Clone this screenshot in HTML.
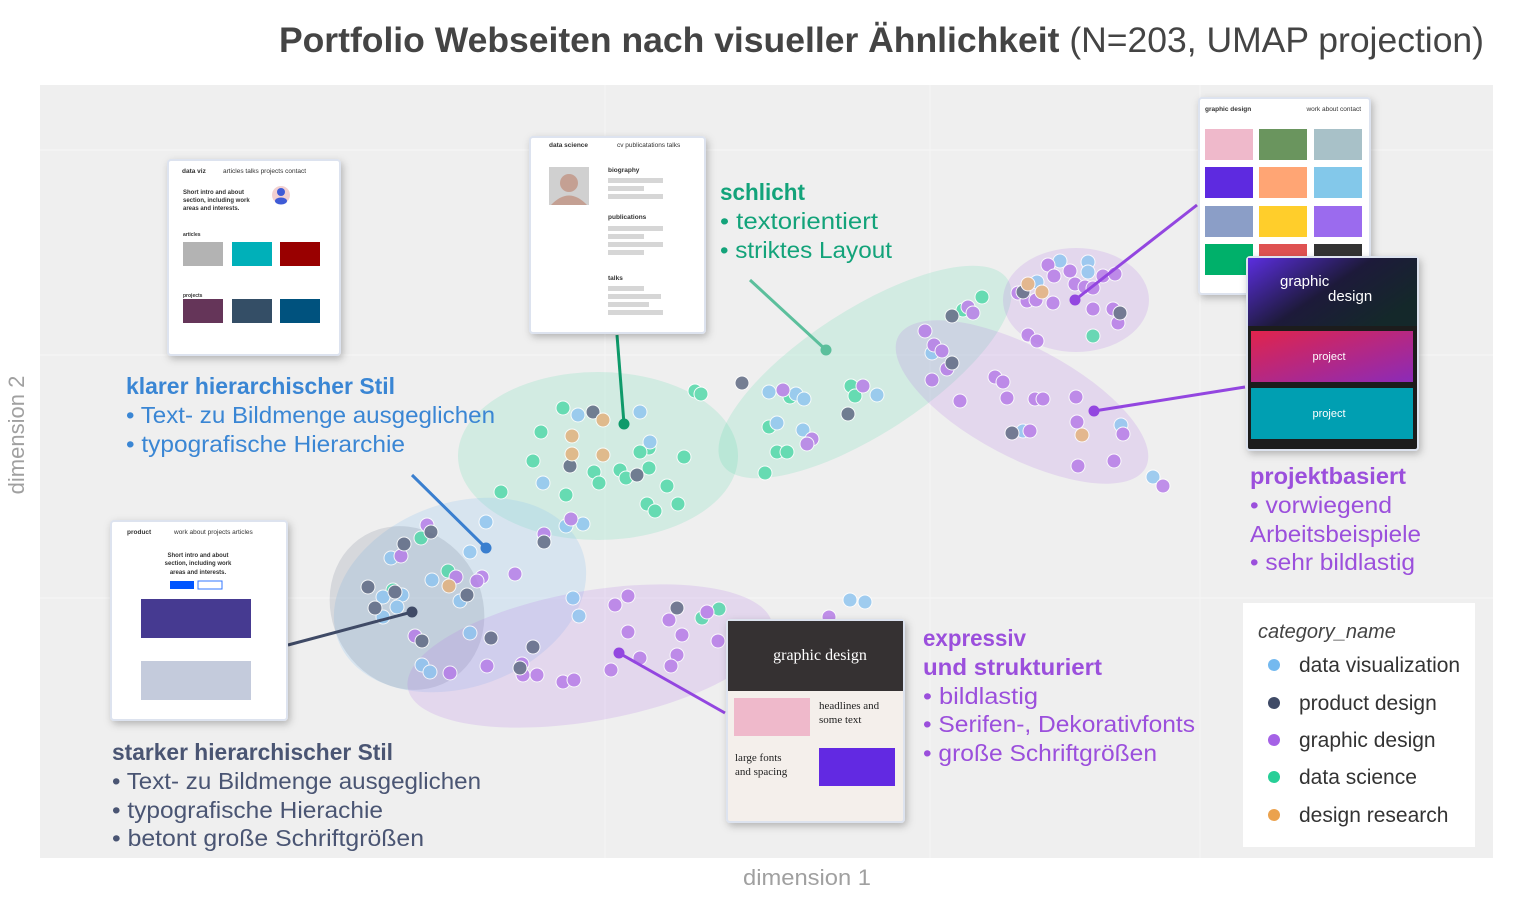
<!DOCTYPE html>
<html><head><meta charset="utf-8"><style>
html,body{margin:0;padding:0;background:#fff;}
svg{display:block;font-family:"Liberation Sans",sans-serif;}
.card{filter:url(#sh);}
</style></head><body>
<svg width="1530" height="900" viewBox="0 0 1530 900" xmlns="http://www.w3.org/2000/svg">
<defs>
<filter id="sh" x="-20%" y="-20%" width="140%" height="140%"><feDropShadow dx="2" dy="3" stdDeviation="4" flood-color="#000" flood-opacity="0.25"/></filter>
<linearGradient id="g1" x1="0" y1="0" x2="1" y2="0.6"><stop offset="0" stop-color="#5b2ee0"/><stop offset="0.55" stop-color="#1d1a3a"/><stop offset="1" stop-color="#14282a"/></linearGradient>
<linearGradient id="g2" x1="0" y1="0" x2="1" y2="1"><stop offset="0" stop-color="#e0244c"/><stop offset="1" stop-color="#8b2bb8"/></linearGradient>
</defs>
<text x="1484" y="52" text-anchor="end" font-size="35.5" fill="#444"><tspan font-weight="bold">Portfolio Webseiten nach visueller Ähnlichkeit</tspan> (N=203, UMAP projection)</text>
<rect x="40" y="85" width="1453" height="773" fill="#efefef"/>
<g stroke="#f5f5f5" stroke-width="1.2">
<line x1="40" y1="355" x2="1493" y2="355"/><line x1="40" y1="598" x2="1493" y2="598"/><line x1="40" y1="150" x2="1493" y2="150"/>
<line x1="605" y1="85" x2="605" y2="858"/><line x1="930" y1="85" x2="930" y2="858"/><line x1="1200" y1="85" x2="1200" y2="858"/>
</g>
<text x="807" y="885" text-anchor="middle" font-size="22" fill="#a0a0a0" textLength="128" lengthAdjust="spacingAndGlyphs">dimension 1</text>
<text transform="translate(24,435) rotate(-90)" text-anchor="middle" font-size="22" fill="#a0a0a0">dimension 2</text>
<!-- ellipses -->
<ellipse cx="598" cy="456" rx="140" ry="84" fill="#4fd8a8" opacity="0.18"/>
<ellipse cx="865" cy="372" rx="170" ry="62" transform="rotate(-33 865 372)" fill="#4fd8a8" opacity="0.18"/>
<ellipse cx="1076" cy="300" rx="73" ry="52" fill="#b57ae8" opacity="0.2"/>
<ellipse cx="1022" cy="402" rx="140" ry="55" transform="rotate(28 1022 402)" fill="#b57ae8" opacity="0.2"/>
<ellipse cx="460" cy="595" rx="130" ry="92" transform="rotate(-20 460 595)" fill="#8ec5f0" opacity="0.25"/>
<ellipse cx="407" cy="608" rx="75" ry="84" transform="rotate(-30 407 608)" fill="#4a5673" opacity="0.15"/>
<ellipse cx="590" cy="656" rx="185" ry="65" transform="rotate(-10 590 656)" fill="#b57ae8" opacity="0.2"/>
<!-- dots -->
<g stroke="#fff" stroke-width="1" opacity="0.82">
<g fill="#4fd8a8">
<circle cx="563" cy="408" r="7"/><circle cx="541" cy="432" r="7"/><circle cx="533" cy="461" r="7"/><circle cx="594" cy="472" r="7"/><circle cx="599" cy="483" r="7"/><circle cx="620" cy="470" r="7"/><circle cx="626" cy="478" r="7"/><circle cx="649" cy="448" r="7"/><circle cx="640" cy="452" r="7"/><circle cx="649" cy="468" r="7"/><circle cx="667" cy="486" r="7"/><circle cx="684" cy="457" r="7"/><circle cx="501" cy="492" r="7"/><circle cx="566" cy="495" r="7"/><circle cx="647" cy="504" r="7"/><circle cx="655" cy="511" r="7"/><circle cx="678" cy="504" r="7"/><circle cx="695" cy="391" r="7"/><circle cx="701" cy="394" r="7"/><circle cx="982" cy="297" r="7"/><circle cx="963" cy="310" r="7"/><circle cx="790" cy="397" r="7"/><circle cx="851" cy="386" r="7"/><circle cx="855" cy="396" r="7"/><circle cx="769" cy="427" r="7"/><circle cx="777" cy="452" r="7"/><circle cx="787" cy="452" r="7"/><circle cx="765" cy="473" r="7"/><circle cx="1093" cy="336" r="7"/><circle cx="421" cy="538" r="7"/><circle cx="448" cy="571" r="7"/><circle cx="719" cy="609" r="7"/><circle cx="702" cy="618" r="7"/><circle cx="393" cy="590" r="7"/>
</g>
<g fill="#8ec5f0">
<circle cx="578" cy="415" r="7"/><circle cx="640" cy="412" r="7"/><circle cx="543" cy="483" r="7"/><circle cx="650" cy="442" r="7"/><circle cx="566" cy="526" r="7"/><circle cx="583" cy="524" r="7"/><circle cx="486" cy="522" r="7"/><circle cx="470" cy="552" r="7"/><circle cx="391" cy="558" r="7"/><circle cx="432" cy="580" r="7"/><circle cx="460" cy="601" r="7"/><circle cx="383" cy="597" r="7"/><circle cx="402" cy="595" r="7"/><circle cx="397" cy="607" r="7"/><circle cx="383" cy="617" r="7"/><circle cx="470" cy="633" r="7"/><circle cx="422" cy="665" r="7"/><circle cx="430" cy="672" r="7"/><circle cx="573" cy="598" r="7"/><circle cx="579" cy="616" r="7"/><circle cx="850" cy="600" r="7"/><circle cx="865" cy="602" r="7"/><circle cx="1060" cy="261" r="7"/><circle cx="1088" cy="262" r="7"/><circle cx="1088" cy="272" r="7"/><circle cx="1037" cy="282" r="7"/><circle cx="932" cy="353" r="7"/><circle cx="769" cy="392" r="7"/><circle cx="796" cy="394" r="7"/><circle cx="804" cy="399" r="7"/><circle cx="877" cy="395" r="7"/><circle cx="777" cy="423" r="7"/><circle cx="803" cy="430" r="7"/><circle cx="1023" cy="431" r="7"/><circle cx="1121" cy="425" r="7"/><circle cx="1153" cy="477" r="7"/>
</g>
<g fill="#b57ae8">
<circle cx="571" cy="519" r="7"/><circle cx="544" cy="534" r="7"/><circle cx="427" cy="525" r="7"/><circle cx="401" cy="556" r="7"/><circle cx="515" cy="574" r="7"/><circle cx="482" cy="577" r="7"/><circle cx="477" cy="581" r="7"/><circle cx="456" cy="577" r="7"/><circle cx="415" cy="636" r="7"/><circle cx="450" cy="673" r="7"/><circle cx="487" cy="666" r="7"/><circle cx="522" cy="664" r="7"/><circle cx="523" cy="675" r="7"/><circle cx="537" cy="675" r="7"/><circle cx="615" cy="605" r="7"/><circle cx="628" cy="596" r="7"/><circle cx="628" cy="632" r="7"/><circle cx="669" cy="620" r="7"/><circle cx="682" cy="635" r="7"/><circle cx="707" cy="612" r="7"/><circle cx="718" cy="641" r="7"/><circle cx="640" cy="658" r="7"/><circle cx="677" cy="655" r="7"/><circle cx="671" cy="666" r="7"/><circle cx="611" cy="670" r="7"/><circle cx="563" cy="682" r="7"/><circle cx="574" cy="680" r="7"/><circle cx="829" cy="617" r="7"/><circle cx="968" cy="307" r="7"/><circle cx="973" cy="313" r="7"/><circle cx="925" cy="331" r="7"/><circle cx="934" cy="345" r="7"/><circle cx="942" cy="351" r="7"/><circle cx="947" cy="369" r="7"/><circle cx="932" cy="380" r="7"/><circle cx="783" cy="390" r="7"/><circle cx="863" cy="386" r="7"/><circle cx="812" cy="439" r="7"/><circle cx="807" cy="444" r="7"/><circle cx="1048" cy="265" r="7"/><circle cx="1054" cy="276" r="7"/><circle cx="1070" cy="271" r="7"/><circle cx="1018" cy="293" r="7"/><circle cx="1027" cy="301" r="7"/><circle cx="1036" cy="300" r="7"/><circle cx="1053" cy="303" r="7"/><circle cx="1075" cy="284" r="7"/><circle cx="1085" cy="287" r="7"/><circle cx="1093" cy="288" r="7"/><circle cx="1103" cy="276" r="7"/><circle cx="1115" cy="274" r="7"/><circle cx="1093" cy="309" r="7"/><circle cx="1113" cy="309" r="7"/><circle cx="1118" cy="323" r="7"/><circle cx="1028" cy="335" r="7"/><circle cx="1037" cy="341" r="7"/><circle cx="995" cy="377" r="7"/><circle cx="1003" cy="382" r="7"/><circle cx="960" cy="401" r="7"/><circle cx="1007" cy="398" r="7"/><circle cx="1035" cy="399" r="7"/><circle cx="1043" cy="399" r="7"/><circle cx="1076" cy="397" r="7"/><circle cx="1077" cy="422" r="7"/><circle cx="1030" cy="431" r="7"/><circle cx="1123" cy="434" r="7"/><circle cx="1078" cy="466" r="7"/><circle cx="1114" cy="461" r="7"/><circle cx="1163" cy="486" r="7"/>
</g>
<g fill="#5b6680">
<circle cx="593" cy="412" r="7"/><circle cx="570" cy="466" r="7"/><circle cx="637" cy="475" r="7"/><circle cx="742" cy="383" r="7"/><circle cx="544" cy="542" r="7"/><circle cx="431" cy="532" r="7"/><circle cx="404" cy="544" r="7"/><circle cx="467" cy="595" r="7"/><circle cx="368" cy="587" r="7"/><circle cx="395" cy="592" r="7"/><circle cx="375" cy="608" r="7"/><circle cx="422" cy="641" r="7"/><circle cx="491" cy="638" r="7"/><circle cx="533" cy="647" r="7"/><circle cx="520" cy="668" r="7"/><circle cx="677" cy="608" r="7"/><circle cx="952" cy="316" r="7"/><circle cx="952" cy="363" r="7"/><circle cx="848" cy="414" r="7"/><circle cx="1023" cy="292" r="7"/><circle cx="1120" cy="313" r="7"/><circle cx="1012" cy="433" r="7"/>
</g>
<g fill="#e3b07a">
<circle cx="603" cy="420" r="7"/><circle cx="572" cy="436" r="7"/><circle cx="572" cy="454" r="7"/><circle cx="603" cy="455" r="7"/><circle cx="449" cy="586" r="7"/><circle cx="1028" cy="284" r="7"/><circle cx="1042" cy="292" r="7"/><circle cx="1082" cy="435" r="7"/>
</g>
</g>
<!-- callout lines -->
<g stroke-width="3">
<line x1="486" y1="548" x2="412" y2="475" stroke="#3a7fcf"/><circle cx="486" cy="548" r="5.5" fill="#3a7fcf"/>
<line x1="412" y1="612" x2="288" y2="645" stroke="#3f4a66"/><circle cx="412" cy="612" r="5.5" fill="#3f4a66"/>
<line x1="624" y1="424" x2="617" y2="335" stroke="#0e9a6a"/><circle cx="624" cy="424" r="5.5" fill="#0e9a6a"/>
<line x1="826" y1="350" x2="750" y2="280" stroke="#5cbf9c"/><circle cx="826" cy="350" r="5.5" fill="#5cbf9c"/>
<line x1="1075" y1="300" x2="1197" y2="205" stroke="#9346e0"/><circle cx="1075" cy="300" r="5.5" fill="#9346e0"/>
<line x1="1094" y1="411" x2="1245" y2="387" stroke="#9346e0"/><circle cx="1094" cy="411" r="5.5" fill="#9346e0"/>
<line x1="619" y1="653" x2="725" y2="713" stroke="#9346e0"/><circle cx="619" cy="653" r="5.5" fill="#9346e0"/>
</g>
<!-- card 1 data viz -->
<g class="card"><rect x="168" y="160" width="172" height="195" rx="3" fill="#fff" stroke="#dde3ef" stroke-width="2"/></g>
<g font-size="6.5" fill="#333">
<text x="182" y="173" font-weight="bold">data viz</text><text x="223" y="173">articles talks projects contact</text>
<text x="183" y="194" font-weight="bold" font-size="6">Short intro and about</text><text x="183" y="202" font-weight="bold" font-size="6">section, including work</text><text x="183" y="210" font-weight="bold" font-size="6">areas and interests.</text>
<circle cx="281" cy="195" r="9" fill="#f2d0d0"/><circle cx="281" cy="192" r="4" fill="#3f5bd6"/><ellipse cx="281" cy="201" rx="6" ry="3.5" fill="#3f5bd6"/>
<text x="183" y="236" font-size="5" font-weight="bold">articles</text><text x="183" y="297" font-size="5" font-weight="bold">projects</text>
</g>
<rect x="183" y="242" width="40" height="24" fill="#b3b3b3"/><rect x="232" y="242" width="40" height="24" fill="#00b0b9"/><rect x="280" y="242" width="40" height="24" fill="#990000"/>
<rect x="183" y="299" width="40" height="24" fill="#653559"/><rect x="232" y="299" width="40" height="24" fill="#344e66"/><rect x="280" y="299" width="40" height="24" fill="#00527e"/>
<!-- card 2 data science -->
<g class="card"><rect x="530" y="137" width="175" height="196" rx="3" fill="#fff" stroke="#dde3ef" stroke-width="2"/></g>
<g font-size="6.5" fill="#333"><text x="549" y="147" font-weight="bold">data science</text><text x="617" y="147">cv publicatations talks</text>
<text x="608" y="172" font-weight="bold">biography</text><text x="608" y="219" font-weight="bold">publications</text><text x="608" y="280" font-weight="bold">talks</text></g>
<rect x="549" y="167" width="40" height="38" fill="#d0d0d0"/><circle cx="569" cy="183" r="9" fill="#c4a093"/><path d="M551 205 Q569 186 587 205Z" fill="#c4a093"/>
<g fill="#d6d6d6"><rect x="608" y="178" width="55" height="5"/><rect x="608" y="186" width="36" height="5"/><rect x="608" y="194" width="55" height="5"/>
<rect x="608" y="226" width="55" height="5"/><rect x="608" y="234" width="36" height="5"/><rect x="608" y="242" width="55" height="5"/><rect x="608" y="250" width="36" height="5"/>
<rect x="608" y="286" width="36" height="5"/><rect x="608" y="294" width="53" height="5"/><rect x="608" y="302" width="41" height="5"/><rect x="608" y="310" width="55" height="5"/></g>
<!-- card 3 graphic design grid -->
<g class="card"><rect x="1199" y="98" width="171" height="196" rx="3" fill="#fff" stroke="#dde3ef" stroke-width="2"/></g>
<text x="1205" y="111" font-size="6.5" font-weight="bold" fill="#333">graphic design</text><text x="1361" y="111" font-size="6.5" fill="#333" text-anchor="end">work about contact</text>
<rect x="1205" y="129" width="48" height="31" fill="#efb9cb"/><rect x="1259" y="129" width="48" height="31" fill="#6a955e"/><rect x="1314" y="129" width="48" height="31" fill="#a8c1c8"/>
<rect x="1205" y="167" width="48" height="31" fill="#5e2ae0"/><rect x="1259" y="167" width="48" height="31" fill="#ffa574"/><rect x="1314" y="167" width="48" height="31" fill="#83c8ea"/>
<rect x="1205" y="206" width="48" height="31" fill="#8b9ec7"/><rect x="1259" y="206" width="48" height="31" fill="#ffce2b"/><rect x="1314" y="206" width="48" height="31" fill="#9b6bee"/>
<rect x="1205" y="244" width="48" height="31" fill="#00b06a"/><rect x="1259" y="244" width="48" height="31" fill="#df5252"/><rect x="1314" y="244" width="48" height="31" fill="#333"/>
<!-- card 4 dark -->
<g class="card"><rect x="1247" y="257" width="171" height="193" rx="3" fill="#1c1c1c" stroke="#dde3ef" stroke-width="2"/></g>
<rect x="1248" y="258" width="169" height="68" fill="url(#g1)"/>
<text x="1280" y="286" font-size="15" fill="#fff">graphic</text><text x="1328" y="301" font-size="15" fill="#fff">design</text>
<rect x="1251" y="331" width="162" height="51" fill="url(#g2)"/><text x="1329" y="360" font-size="11" fill="#fff" text-anchor="middle">project</text>
<rect x="1251" y="388" width="162" height="51" fill="#009fb2"/><text x="1329" y="417" font-size="11" fill="#fff" text-anchor="middle">project</text>
<!-- card 5 product -->
<g class="card"><rect x="111" y="521" width="176" height="199" rx="3" fill="#fff" stroke="#dde3ef" stroke-width="2"/></g>
<g font-size="6.5" fill="#333"><text x="127" y="534" font-weight="bold">product</text><text x="174" y="534">work about projects articles</text>
<g font-size="6" font-weight="bold" text-anchor="middle"><text x="198" y="557">Short intro and about</text><text x="198" y="565">section, including work</text><text x="198" y="574">areas and interests.</text></g></g>
<rect x="170" y="581" width="24" height="8" fill="#0055ff"/><rect x="198" y="581" width="24" height="8" fill="#fff" stroke="#3377ff"/>
<rect x="141" y="599" width="110" height="39" fill="#463a91"/><rect x="141" y="661" width="110" height="39" fill="#c4cbdc"/>
<!-- card 6 serif -->
<g class="card"><rect x="727" y="620" width="177" height="202" rx="3" fill="#f4efeb" stroke="#dde3ef" stroke-width="2"/></g>
<rect x="728" y="621" width="175" height="70" fill="#353132"/>
<g font-family="Liberation Serif,serif"><text x="820" y="660" font-size="16" fill="#fff" text-anchor="middle">graphic design</text>
<text x="819" y="709" font-size="11" fill="#222">headlines and</text><text x="819" y="723" font-size="11" fill="#222">some text</text>
<text x="735" y="761" font-size="11" fill="#222">large fonts</text><text x="735" y="775" font-size="11" fill="#222">and spacing</text></g>
<rect x="734" y="698" width="76" height="38" fill="#efb9cb"/><rect x="819" y="748" width="76" height="38" fill="#6229e2"/>
<!-- annotations -->
<g font-size="23.5">
<g fill="#3a86d4"><text x="126" y="394" font-weight="bold" textLength="269" lengthAdjust="spacingAndGlyphs">klarer hierarchischer Stil</text><text x="126" y="423" textLength="369" lengthAdjust="spacingAndGlyphs">• Text- zu Bildmenge ausgeglichen</text><text x="126" y="452" textLength="279" lengthAdjust="spacingAndGlyphs">• typografische Hierarchie</text></g>
<g fill="#13a37a"><text x="720" y="200" font-weight="bold" textLength="85" lengthAdjust="spacingAndGlyphs">schlicht</text><text x="720" y="229" textLength="158" lengthAdjust="spacingAndGlyphs">• textorientiert</text><text x="720" y="258" textLength="172" lengthAdjust="spacingAndGlyphs">• striktes Layout</text></g>
<g fill="#9b4fdc"><text x="1250" y="484" font-weight="bold" textLength="156" lengthAdjust="spacingAndGlyphs">projektbasiert</text><text x="1250" y="513" textLength="142" lengthAdjust="spacingAndGlyphs">• vorwiegend</text><text x="1250" y="542" textLength="171" lengthAdjust="spacingAndGlyphs">Arbeitsbeispiele</text><text x="1250" y="570" textLength="165" lengthAdjust="spacingAndGlyphs">• sehr bildlastig</text></g>
<g fill="#9b4fdc"><text x="923" y="646" font-weight="bold" textLength="103" lengthAdjust="spacingAndGlyphs">expressiv</text><text x="923" y="675" font-weight="bold" textLength="179" lengthAdjust="spacingAndGlyphs">und strukturiert</text><text x="923" y="704" textLength="115" lengthAdjust="spacingAndGlyphs">• bildlastig</text><text x="923" y="732" textLength="272" lengthAdjust="spacingAndGlyphs">• Serifen-, Dekorativfonts</text><text x="923" y="761" textLength="234" lengthAdjust="spacingAndGlyphs">• große Schriftgrößen</text></g>
<g fill="#4a5573"><text x="112" y="760" font-weight="bold" textLength="281" lengthAdjust="spacingAndGlyphs">starker hierarchischer Stil</text><text x="112" y="789" textLength="369" lengthAdjust="spacingAndGlyphs">• Text- zu Bildmenge ausgeglichen</text><text x="112" y="818" textLength="271" lengthAdjust="spacingAndGlyphs">• typografische Hierachie</text><text x="112" y="846" textLength="312" lengthAdjust="spacingAndGlyphs">• betont große Schriftgrößen</text></g>
</g>
<!-- legend -->
<rect x="1243" y="603" width="232" height="244" fill="#fff"/>
<text x="1258" y="638" font-size="20" font-style="italic" fill="#444">category_name</text>
<g font-size="21" fill="#333">
<circle cx="1274" cy="665" r="6" fill="#74b9ef"/><text x="1299" y="672">data visualization</text>
<circle cx="1274" cy="703" r="6" fill="#3f4a66"/><text x="1299" y="710">product design</text>
<circle cx="1274" cy="740" r="6" fill="#a562e6"/><text x="1299" y="747">graphic design</text>
<circle cx="1274" cy="777" r="6" fill="#27cf97"/><text x="1299" y="784">data science</text>
<circle cx="1274" cy="815" r="6" fill="#eba24e"/><text x="1299" y="822">design research</text>
</g>
</svg>
</body></html>
